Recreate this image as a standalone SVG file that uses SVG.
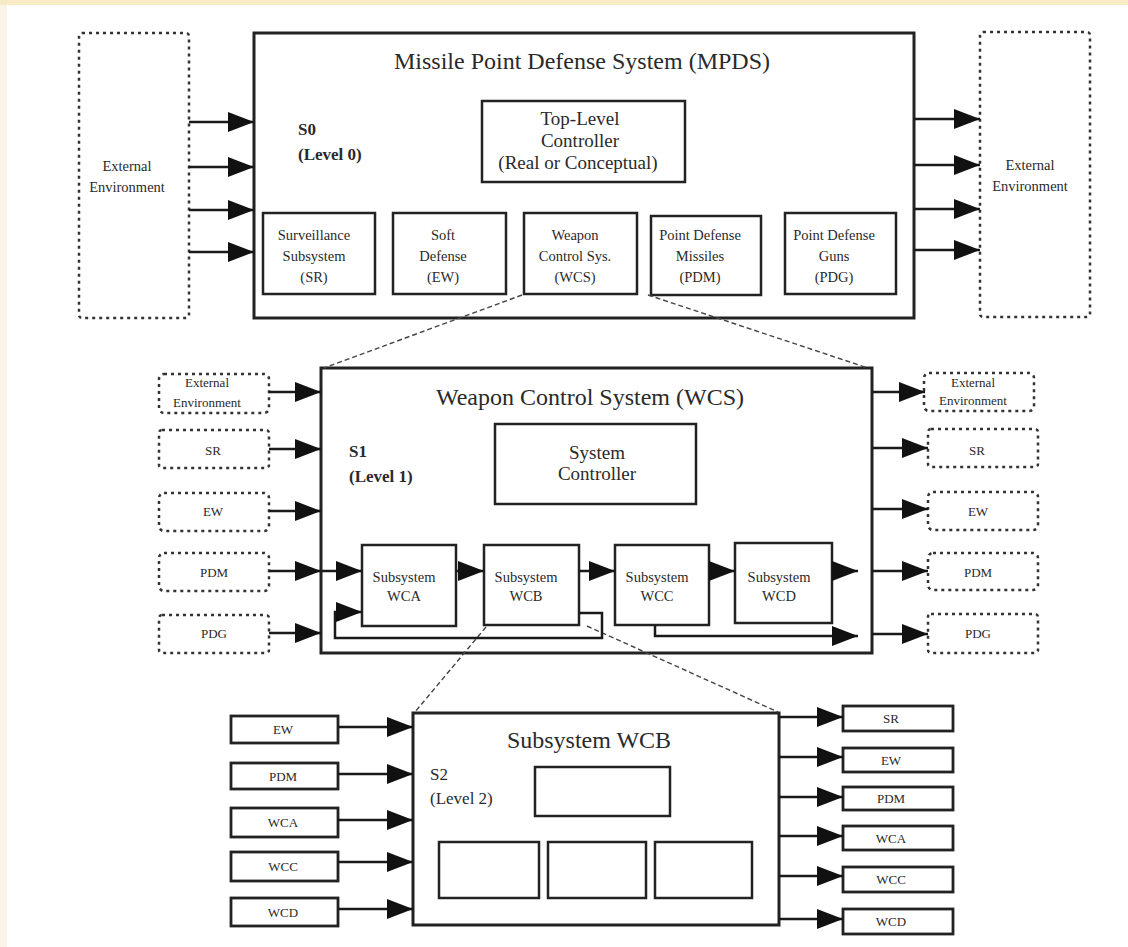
<svg xmlns="http://www.w3.org/2000/svg" width="1128" height="947" viewBox="0 0 1128 947">
<defs>
<style>
.bg{fill:#ffffff}
.box{fill:#ffffff;stroke:#222;stroke-width:3}
.ibox{fill:#ffffff;stroke:#222;stroke-width:2.5}
.dbox{fill:#ffffff;stroke:#333;stroke-width:2.5;stroke-dasharray:3 4}
.sbox{fill:#ffffff;stroke:#222;stroke-width:2.8}
.conn{fill:none;stroke:#1a1a1a;stroke-width:2.5}
.proj{fill:none;stroke:#444;stroke-width:1.4;stroke-dasharray:5 3}
text{font-family:"Liberation Serif","Times New Roman",serif;fill:#2a2a2a;text-anchor:middle}
.title{font-size:24px}
.lvl{font-size:17px;font-weight:bold;text-anchor:start}
.mid{font-size:19px}
.sm{font-size:14.5px}
.xs{font-size:13px}
</style>
<marker id="ah" markerUnits="userSpaceOnUse" markerWidth="26" markerHeight="20" refX="26" refY="10" orient="auto">
<path d="M0,0 L26,10 L0,20 Z" fill="#111"/>
</marker>
</defs>
<rect class="bg" x="0" y="0" width="1128" height="947"/>
<rect x="0" y="0" width="1128" height="5" fill="#f6e8b6" opacity="0.8"/>
<rect x="0" y="0" width="7" height="947" fill="#f3e6c8" opacity="0.45"/>

<!-- Level 0 -->
<g id="ext-env-left-0">
<rect class="dbox" x="79" y="33" width="110" height="285" rx="3"/>
<text class="sm" x="127" y="171">External</text>
<text class="sm" x="127" y="192">Environment</text>
</g>
<g id="ext-env-right-0">
<rect class="dbox" x="980" y="32" width="110" height="285" rx="3"/>
<text class="sm" x="1030" y="170">External</text>
<text class="sm" x="1030" y="191">Environment</text>
</g>
<g id="mpds">
<rect class="box" x="254" y="33" width="660" height="285"/>
<text class="title" x="582" y="69">Missile Point Defense System (MPDS)</text>
<text class="lvl" x="298" y="135">S0</text>
<text class="lvl" x="298" y="160">(Level 0)</text>
</g>
<g id="top-controller">
<rect class="ibox" x="482" y="101" width="203" height="81"/>
<text class="mid" x="580" y="125">Top-Level</text>
<text class="mid" x="580" y="147">Controller</text>
<text class="mid" x="578" y="169">(Real or Conceptual)</text>
</g>
<g id="sr-0">
<rect class="ibox" x="263" y="213" width="112" height="81"/>
<text class="sm" x="314" y="240">Surveillance</text>
<text class="sm" x="314" y="261">Subsystem</text>
<text class="sm" x="314" y="282">(SR)</text>
</g>
<g id="ew-0">
<rect class="ibox" x="393" y="213" width="113" height="81"/>
<text class="sm" x="443" y="240">Soft</text>
<text class="sm" x="443" y="261">Defense</text>
<text class="sm" x="443" y="282">(EW)</text>
</g>
<g id="wcs-0">
<rect class="ibox" x="524" y="213" width="113" height="81"/>
<text class="sm" x="575" y="240">Weapon</text>
<text class="sm" x="575" y="261">Control Sys.</text>
<text class="sm" x="575" y="282">(WCS)</text>
</g>
<g id="pdm-0">
<rect class="ibox" x="651" y="216" width="110" height="79"/>
<text class="sm" x="700" y="240">Point Defense</text>
<text class="sm" x="700" y="261">Missiles</text>
<text class="sm" x="700" y="282">(PDM)</text>
</g>
<g id="pdg-0">
<rect class="ibox" x="785" y="213" width="111" height="81"/>
<text class="sm" x="834" y="240">Point Defense</text>
<text class="sm" x="834" y="261">Guns</text>
<text class="sm" x="834" y="282">(PDG)</text>
</g>

<!-- Level 1 -->
<g id="wcs">
<rect class="box" x="321" y="368" width="551" height="285"/>
<text class="title" x="590" y="405">Weapon Control System (WCS)</text>
<text class="lvl" x="349" y="457">S1</text>
<text class="lvl" x="349" y="482">(Level 1)</text>
</g>
<g id="sys-controller">
<rect class="ibox" x="495" y="424" width="201" height="80"/>
<text class="mid" x="597" y="459">System</text>
<text class="mid" x="597" y="480">Controller</text>
</g>
<g id="wca">
<rect class="ibox" x="362" y="545" width="94" height="81"/>
<text class="sm" x="404" y="582">Subsystem</text>
<text class="sm" x="404" y="601">WCA</text>
</g>
<g id="wcb">
<rect class="ibox" x="484" y="545" width="95" height="80"/>
<text class="sm" x="526" y="582">Subsystem</text>
<text class="sm" x="526" y="601">WCB</text>
</g>
<g id="wcc">
<rect class="ibox" x="615" y="545" width="94" height="80"/>
<text class="sm" x="657" y="582">Subsystem</text>
<text class="sm" x="657" y="601">WCC</text>
</g>
<g id="wcd">
<rect class="ibox" x="735" y="543" width="97" height="80"/>
<text class="sm" x="779" y="582">Subsystem</text>
<text class="sm" x="779" y="601">WCD</text>
</g>
<g id="in-ext-1"><rect class="dbox" x="159" y="374" width="110" height="39" rx="5"/><text class="xs" x="207" y="387">External</text><text class="xs" x="207" y="407">Environment</text></g>
<g id="in-sr-1"><rect class="dbox" x="159" y="430" width="110" height="38" rx="3"/><text class="xs" x="213" y="455">SR</text></g>
<g id="in-ew-1"><rect class="dbox" x="159" y="493" width="110" height="38" rx="5"/><text class="xs" x="213" y="516">EW</text></g>
<g id="in-pdm-1"><rect class="dbox" x="159" y="553" width="110" height="38" rx="5"/><text class="xs" x="214" y="577">PDM</text></g>
<g id="in-pdg-1"><rect class="dbox" x="159" y="615" width="110" height="38" rx="3"/><text class="xs" x="214" y="638">PDG</text></g>
<g id="out-ext-1"><rect class="dbox" x="924" y="373" width="110" height="38" rx="5"/><text class="xs" x="973" y="387">External</text><text class="xs" x="973" y="405">Environment</text></g>
<g id="out-sr-1"><rect class="dbox" x="928" y="429" width="110" height="38" rx="3"/><text class="xs" x="977" y="455">SR</text></g>
<g id="out-ew-1"><rect class="dbox" x="928" y="492" width="110" height="38" rx="5"/><text class="xs" x="978" y="516">EW</text></g>
<g id="out-pdm-1"><rect class="dbox" x="928" y="553" width="110" height="37" rx="5"/><text class="xs" x="978" y="577">PDM</text></g>
<g id="out-pdg-1"><rect class="dbox" x="928" y="614" width="110" height="39" rx="3"/><text class="xs" x="978" y="638">PDG</text></g>

<!-- Level 2 -->
<g id="wcb-sub">
<rect class="box" x="413" y="713" width="366" height="212"/>
<text class="title" x="589" y="748">Subsystem WCB</text>
<text class="lvl" x="430" y="780" style="font-weight:normal">S2</text>
<text class="lvl" x="430" y="804" style="font-weight:normal">(Level 2)</text>
</g>
<g id="wcb-ctrl"><rect class="ibox" x="535" y="767" width="135" height="49"/></g>
<g id="wcb-c1"><rect class="ibox" x="439" y="842" width="100" height="56"/></g>
<g id="wcb-c2"><rect class="ibox" x="548" y="842" width="98" height="56"/></g>
<g id="wcb-c3"><rect class="ibox" x="655" y="842" width="97" height="56"/></g>
<g id="in-ew-2"><rect class="sbox" x="231" y="716" width="107" height="27"/><text class="xs" x="283" y="734">EW</text></g>
<g id="in-pdm-2"><rect class="sbox" x="231" y="763" width="107" height="26"/><text class="xs" x="283" y="781">PDM</text></g>
<g id="in-wca-2"><rect class="sbox" x="231" y="808" width="107" height="29"/><text class="xs" x="283" y="827">WCA</text></g>
<g id="in-wcc-2"><rect class="sbox" x="231" y="852" width="107" height="29"/><text class="xs" x="283" y="871">WCC</text></g>
<g id="in-wcd-2"><rect class="sbox" x="231" y="898" width="107" height="28"/><text class="xs" x="283" y="917">WCD</text></g>
<g id="out-sr-2"><rect class="sbox" x="843" y="706" width="110" height="25"/><text class="xs" x="891" y="723">SR</text></g>
<g id="out-ew-2"><rect class="sbox" x="843" y="748" width="110" height="24"/><text class="xs" x="891" y="765">EW</text></g>
<g id="out-pdm-2"><rect class="sbox" x="843" y="787" width="110" height="23"/><text class="xs" x="891" y="803">PDM</text></g>
<g id="out-wca-2"><rect class="sbox" x="843" y="826" width="110" height="24"/><text class="xs" x="891" y="843">WCA</text></g>
<g id="out-wcc-2"><rect class="sbox" x="843" y="867" width="110" height="25"/><text class="xs" x="891" y="884">WCC</text></g>
<g id="out-wcd-2"><rect class="sbox" x="843" y="909" width="110" height="25"/><text class="xs" x="891" y="926">WCD</text></g>

<g id="connectors">
<line class="conn" x1="189" y1="122" x2="254" y2="122" marker-end="url(#ah)"/>
<line class="conn" x1="189" y1="167" x2="254" y2="167" marker-end="url(#ah)"/>
<line class="conn" x1="189" y1="210" x2="254" y2="210" marker-end="url(#ah)"/>
<line class="conn" x1="189" y1="252" x2="254" y2="252" marker-end="url(#ah)"/>
<line class="conn" x1="914" y1="119" x2="980" y2="119" marker-end="url(#ah)"/>
<line class="conn" x1="914" y1="165" x2="980" y2="165" marker-end="url(#ah)"/>
<line class="conn" x1="914" y1="209" x2="980" y2="209" marker-end="url(#ah)"/>
<line class="conn" x1="914" y1="250" x2="980" y2="250" marker-end="url(#ah)"/>
<line class="proj" x1="522" y1="295" x2="324" y2="368"/>
<line class="proj" x1="648" y1="295" x2="868" y2="368"/>
<line class="proj" x1="486" y1="627" x2="415" y2="712"/>
<line class="proj" x1="587" y1="626" x2="778" y2="712"/>
<line class="conn" x1="269" y1="392" x2="321" y2="392" marker-end="url(#ah)"/>
<line class="conn" x1="269" y1="449" x2="321" y2="449" marker-end="url(#ah)"/>
<line class="conn" x1="269" y1="511" x2="321" y2="511" marker-end="url(#ah)"/>
<line class="conn" x1="269" y1="571" x2="321" y2="571" marker-end="url(#ah)"/>
<line class="conn" x1="269" y1="633" x2="321" y2="633" marker-end="url(#ah)"/>
<line class="conn" x1="322" y1="571" x2="362" y2="571" marker-end="url(#ah)"/>
<line class="conn" x1="456" y1="571" x2="484" y2="571" marker-end="url(#ah)"/>
<line class="conn" x1="579" y1="571" x2="615" y2="571" marker-end="url(#ah)"/>
<line class="conn" x1="709" y1="571" x2="735" y2="571" marker-end="url(#ah)"/>
<line class="conn" x1="832" y1="571" x2="858" y2="571" marker-end="url(#ah)"/>
<path class="conn" d="M579,613 H602 V638 H335 V612 H362" marker-end="url(#ah)"/>
<path class="conn" d="M655,625 V636 H858" marker-end="url(#ah)"/>
<line class="conn" x1="872" y1="392" x2="925" y2="392" marker-end="url(#ah)"/>
<line class="conn" x1="872" y1="448" x2="928" y2="448" marker-end="url(#ah)"/>
<line class="conn" x1="872" y1="509" x2="928" y2="509" marker-end="url(#ah)"/>
<line class="conn" x1="872" y1="571" x2="928" y2="571" marker-end="url(#ah)"/>
<line class="conn" x1="872" y1="634" x2="928" y2="634" marker-end="url(#ah)"/>
<line class="conn" x1="338" y1="727" x2="413" y2="727" marker-end="url(#ah)"/>
<line class="conn" x1="338" y1="774" x2="413" y2="774" marker-end="url(#ah)"/>
<line class="conn" x1="338" y1="820" x2="413" y2="820" marker-end="url(#ah)"/>
<line class="conn" x1="338" y1="862" x2="413" y2="862" marker-end="url(#ah)"/>
<line class="conn" x1="338" y1="909" x2="413" y2="909" marker-end="url(#ah)"/>
<line class="conn" x1="779" y1="717" x2="843" y2="717" marker-end="url(#ah)"/>
<line class="conn" x1="779" y1="757" x2="843" y2="757" marker-end="url(#ah)"/>
<line class="conn" x1="779" y1="797" x2="843" y2="797" marker-end="url(#ah)"/>
<line class="conn" x1="779" y1="836" x2="843" y2="836" marker-end="url(#ah)"/>
<line class="conn" x1="779" y1="876" x2="843" y2="876" marker-end="url(#ah)"/>
<line class="conn" x1="779" y1="919" x2="843" y2="919" marker-end="url(#ah)"/>
</g>
</svg>
